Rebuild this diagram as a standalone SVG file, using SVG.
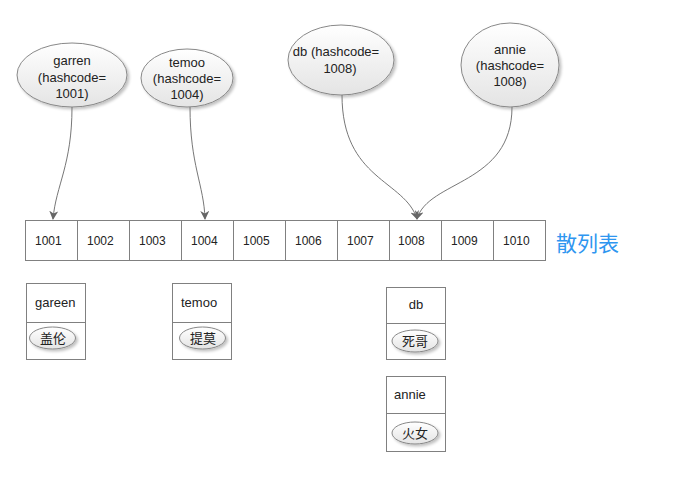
<svg xmlns="http://www.w3.org/2000/svg" width="673" height="479" viewBox="0 0 673 479">
<defs>
<linearGradient id="eg" x1="0" y1="0" x2="0" y2="1">
<stop offset="0" stop-color="#ffffff"/>
<stop offset="1" stop-color="#e4e4e4"/>
</linearGradient>
<filter id="sh" x="-20%" y="-20%" width="150%" height="150%">
<feGaussianBlur in="SourceAlpha" stdDeviation="1.5"/>
<feOffset dx="2" dy="2" result="o"/>
<feComponentTransfer><feFuncA type="linear" slope="0.25"/></feComponentTransfer>
<feMerge><feMergeNode/><feMergeNode in="SourceGraphic"/></feMerge>
</filter>
<marker id="arr" viewBox="0 0 10 10" refX="9" refY="5" markerWidth="9" markerHeight="9" markerUnits="userSpaceOnUse" orient="auto">
<path d="M0,0 L10,5 L0,10 L3,5 z" fill="#666"/>
</marker>
</defs>
<style>
.el{fill:url(#eg);stroke:#888;stroke-width:1;filter:url(#sh)}
.t{font-family:"Liberation Sans",Arial,sans-serif;font-size:13px;fill:#222}
.tm{font-family:"Liberation Sans",Arial,sans-serif;font-size:13px;fill:#222;text-anchor:middle}
.cell{fill:#fff;stroke:#808080;stroke-width:1}
.ct{font-family:"Liberation Sans",Arial,sans-serif;font-size:12px;fill:#222}
.box{fill:#fff;stroke:#808080;stroke-width:1}
.div{stroke:#808080;stroke-width:1}
.cn{font-family:"Noto Sans CJK SC","Noto Sans",sans-serif;font-size:13px;fill:#222;text-anchor:middle}
.con{fill:none;stroke:#777;stroke-width:1;marker-end:url(#arr)}
</style>
<rect width="673" height="479" fill="#fff"/>

<g id="node-garren">
<ellipse class="el" cx="72" cy="75" rx="55" ry="32"/>
<text class="tm" x="72" y="65">garren</text>
<text class="tm" x="72" y="81.5">(hashcode=</text>
<text class="tm" x="72" y="98">1001)</text>
</g>
<g id="node-temoo">
<ellipse class="el" cx="187" cy="78" rx="46" ry="29"/>
<text class="tm" x="187" y="67">temoo</text>
<text class="tm" x="187" y="83">(hashcode=</text>
<text class="tm" x="187" y="98.5">1004)</text>
</g>
<g id="node-db">
<ellipse class="el" cx="341" cy="60" rx="53" ry="35"/>
<text class="tm" x="336" y="56">db (hashcode=</text>
<text class="tm" x="340" y="73">1008)</text>
</g>
<g id="node-annie">
<ellipse class="el" cx="510" cy="65" rx="49" ry="42"/>
<text class="tm" x="510" y="54">annie</text>
<text class="tm" x="510" y="70">(hashcode=</text>
<text class="tm" x="510" y="86">1008)</text>
</g>

<g id="hashtable">
<rect class="cell" x="25.5" y="220.5" width="52" height="40"/>
<rect class="cell" x="77.5" y="220.5" width="52" height="40"/>
<rect class="cell" x="129.5" y="220.5" width="52" height="40"/>
<rect class="cell" x="181.5" y="220.5" width="52" height="40"/>
<rect class="cell" x="233.5" y="220.5" width="52" height="40"/>
<rect class="cell" x="285.5" y="220.5" width="52" height="40"/>
<rect class="cell" x="337.5" y="220.5" width="52" height="40"/>
<rect class="cell" x="389.5" y="220.5" width="52" height="40"/>
<rect class="cell" x="441.5" y="220.5" width="52" height="40"/>
<rect class="cell" x="493.5" y="220.5" width="52" height="40"/>
<text class="ct" x="35" y="245">1001</text>
<text class="ct" x="87" y="245">1002</text>
<text class="ct" x="139" y="245">1003</text>
<text class="ct" x="191" y="245">1004</text>
<text class="ct" x="243" y="245">1005</text>
<text class="ct" x="295" y="245">1006</text>
<text class="ct" x="347" y="245">1007</text>
<text class="ct" x="398" y="245">1008</text>
<text class="ct" x="451" y="245">1009</text>
<text class="ct" x="503" y="245">1010</text>
<text x="556" y="251" font-family="Noto Sans CJK SC,sans-serif" font-size="21" fill="#2e96f0">散列表</text>
</g>

<g id="entry-gareen">
<rect class="box" x="26.5" y="283.5" width="59" height="76"/>
<line class="div" x1="26.5" y1="322.5" x2="85.5" y2="322.5"/>
<text class="t" x="35" y="307">gareen</text>
<ellipse class="el" cx="52.5" cy="338" rx="23" ry="11"/>
<text class="cn" x="53" y="343">盖伦</text>
</g>
<g id="entry-temoo">
<rect class="box" x="172.5" y="283.5" width="59" height="76"/>
<line class="div" x1="172.5" y1="322.5" x2="231.5" y2="322.5"/>
<text class="t" x="181" y="307">temoo</text>
<ellipse class="el" cx="202.5" cy="338" rx="23" ry="11"/>
<text class="cn" x="203" y="343">提莫</text>
</g>
<g id="entry-db">
<rect class="box" x="386.5" y="287.5" width="59" height="72"/>
<line class="div" x1="386.5" y1="323.5" x2="445.5" y2="323.5"/>
<text class="tm" x="416" y="309">db</text>
<ellipse class="el" cx="415" cy="341" rx="23" ry="11"/>
<text class="cn" x="415" y="346">死哥</text>
</g>
<g id="entry-annie">
<rect class="box" x="386.5" y="376.5" width="59" height="75"/>
<line class="div" x1="386.5" y1="413.5" x2="445.5" y2="413.5"/>
<text class="t" x="394" y="399">annie</text>
<ellipse class="el" cx="415" cy="433" rx="23" ry="11"/>
<text class="cn" x="415" y="438">火女</text>
</g>

<g id="connectors">
<path class="con" d="M72,107 C72,165 56,185 53,219"/>
<path class="con" d="M190,107 C190,165 204,185 205,219"/>
<path class="con" d="M342,95 C342,180 405,180 417,219"/>
<path class="con" d="M512,107 C512,185 428,180 417,219"/>
</g>
</svg>
